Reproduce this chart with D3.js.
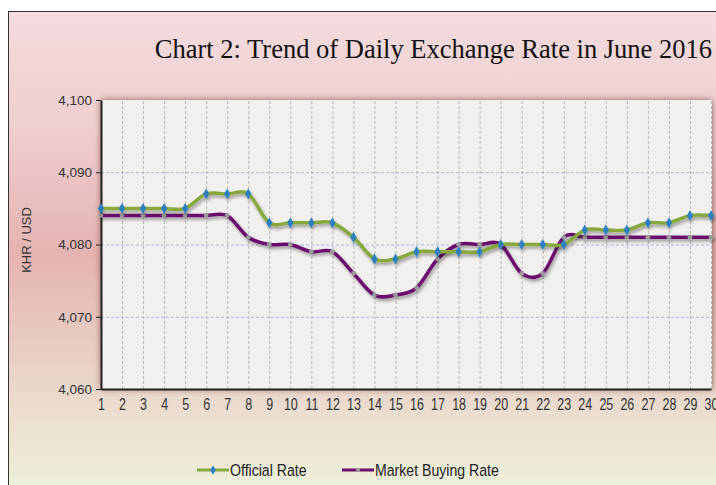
<!DOCTYPE html>
<html>
<head>
<meta charset="utf-8">
<script src="https://cdn.jsdelivr.net/npm/d3@7"></script>
<style>
  body { margin: 0; background: #fff; }
  svg { display: block; }
  .tick text { fill: #333; }
</style>
</head>
<body>
<div id="chart"></div>
<script>
// values
var days = d3.range(1, 31)
var officialRate = [4085, 4085, 4085, 4085, 4085, 4087, 4087, 4087, 4083, 4083,
                    4083, 4083, 4081, 4078, 4078, 4079, 4079, 4079, 4079, 4080,
                    4080, 4080, 4080, 4082, 4082, 4082, 4083, 4083, 4084, 4084]
var marketRate = [4084, 4084, 4084, 4084, 4084, 4084, 4084, 4081, 4080, 4080,
                  4079, 4079, 4076, 4073, 4073, 4074, 4078, 4080, 4080, 4080,
                  4076, 4076, 4081, 4081, 4081, 4081, 4081, 4081, 4081, 4081]
var yTicks = [4060, 4070, 4080, 4090, 4100]
var seriesNames = ["Official Rate", "Market Buying Rate"]

var W = 716, H = 485
var plot = {left: 101, right: 712, top: 100, bottom: 389}
var narrow = "'Liberation Sans Narrow', 'Arial Narrow', 'Liberation Sans', Arial, sans-serif"

var svg = d3.select("#chart").append("svg")
    .attr("width", W)
    .attr("height", H)

var defs = svg.append("defs")

var bg = defs.append("linearGradient").attr("id", "bg")
    .attr("x1", 0).attr("y1", 0).attr("x2", 0).attr("y2", 1)
bg.append("stop").attr("offset", "0%").attr("stop-color", "#f4dcde")
bg.append("stop").attr("offset", "25%").attr("stop-color", "#efcdcf")
bg.append("stop").attr("offset", "50%").attr("stop-color", "#e4b3b2")
bg.append("stop").attr("offset", "75%").attr("stop-color", "#ead4c9")
bg.append("stop").attr("offset", "100%").attr("stop-color", "#eef2dd")

var shadow = defs.append("filter").attr("id", "shadow")
    .attr("x", "-10%").attr("y", "-10%").attr("width", "130%").attr("height", "130%")
shadow.append("feDropShadow")
    .attr("dx", 1.5).attr("dy", 2.5).attr("stdDeviation", 1.5)
    .attr("flood-color", "#000").attr("flood-opacity", 0.35)

var boxShadow = defs.append("filter").attr("id", "boxshadow")
    .attr("x", "-5%").attr("y", "-5%").attr("width", "110%").attr("height", "110%")
boxShadow.append("feDropShadow")
    .attr("dx", 0).attr("dy", 0).attr("stdDeviation", 3)
    .attr("flood-color", "#5a2020").attr("flood-opacity", 0.7)

// panel
svg.append("rect")
    .attr("x", 8.5).attr("y", 11.5)
    .attr("width", W).attr("height", H)
    .attr("fill", "url(#bg)")
    .attr("stroke", "#333").attr("stroke-width", 1)

svg.append("text")
    .attr("x", 712).attr("y", 58)
    .attr("text-anchor", "end")
    .attr("font-family", "'Liberation Serif', 'Times New Roman', serif")
    .attr("font-size", 26.5)
    .attr("fill", "#111")
    .text("Chart 2: Trend of Daily Exchange Rate in June 2016")

var x = d3.scaleLinear()
    .domain([1, 30])
    .range([plot.left, plot.right - 1])

var y = d3.scaleLinear()
    .domain([4060, 4100])
    .range([plot.bottom, plot.top])

// plot area
svg.append("rect")
    .attr("x", plot.left).attr("y", plot.top)
    .attr("width", plot.right - plot.left).attr("height", plot.bottom - plot.top)
    .attr("fill", "#f2f0ef")
    .attr("filter", "url(#boxshadow)")

var g = svg.append("g")

g.append("g")
    .attr("class", "grid grid--x")
    .attr("transform", "translate(0," + plot.bottom + ")")
    .call(d3.axisBottom(x)
        .tickValues(days.slice(1))
        .tickSize(-(plot.bottom - plot.top))
        .tickFormat(""))
    .call(function(s) {
        s.select(".domain").remove()
        s.selectAll("line").attr("stroke", "#b8b8b8").attr("stroke-dasharray", "3,2")
    })

g.append("g")
    .attr("class", "grid grid--y")
    .attr("transform", "translate(" + plot.left + ",0)")
    .call(d3.axisLeft(y)
        .tickValues([4070, 4080, 4090])
        .tickSize(-(plot.right - plot.left))
        .tickFormat(""))
    .call(function(s) {
        s.select(".domain").remove()
        s.selectAll("line").attr("stroke", "#a9b3de").attr("stroke-dasharray", "3,2")
    })

// axes
g.append("g")
    .attr("class", "axis axis--y")
    .attr("transform", "translate(" + plot.left + ",0)")
    .call(d3.axisLeft(y)
        .tickValues(yTicks)
        .tickSize(5)
        .tickSizeOuter(0)
        .tickFormat(d3.format(",")))
    .call(function(s) {
        s.select(".domain").attr("stroke", "#222").attr("stroke-width", 2)
        s.selectAll("line").attr("stroke", "#222")
        s.selectAll("text")
            .attr("font-family", "'Liberation Sans', Arial, sans-serif")
            .attr("font-size", 13.5)
            .attr("x", -9)
    })

g.append("g")
    .attr("class", "axis axis--x")
    .attr("transform", "translate(0," + plot.bottom + ")")
    .call(d3.axisBottom(x)
        .tickValues(days)
        .tickSize(0)
        .tickSizeOuter(0)
        .tickFormat(d3.format("d")))
    .call(function(s) {
        s.select(".domain").attr("stroke", "#222").attr("stroke-width", 2)
        s.selectAll("text")
            .attr("font-family", narrow)
            .attr("font-size", 16)
            .attr("y", 0)
            .attr("dy", 0)
            .attr("transform", "translate(0,21) scale(0.78,1)")
    })

svg.append("text")
    .attr("transform", "translate(31,240) rotate(-90)")
    .attr("text-anchor", "middle")
    .attr("font-family", "'Liberation Sans', Arial, sans-serif")
    .attr("font-size", 13)
    .attr("fill", "#333")
    .text("KHR / USD")

// lines
var line = function(values) {
    return d3.line()
        .curve(d3.curveCardinal.tension(0))
        .x(function(d, i) { return x(days[i]) })
        .y(function(d) { return y(d) })(values)
}

var series = [
    {name: seriesNames[0], values: officialRate, color: "#86a83e", marker: "diamond", mcolor: "#2f7fbf", msize: 34},
    {name: seriesNames[1], values: marketRate, color: "#6a0f6c", marker: "circle", mcolor: "#9c9a9c", msize: 18}
]

var lines = svg.append("g")
series.slice().reverse().forEach(function(s) {
    var sg = lines.append("g").attr("filter", "url(#shadow)")
    sg.append("path")
        .attr("d", line(s.values))
        .attr("fill", "none")
        .attr("stroke", s.color)
        .attr("stroke-width", 3.5)
        .attr("stroke-linejoin", "round")
    var sym = d3.symbol()
        .type(s.marker == "diamond" ? d3.symbolDiamond : d3.symbolCircle)
        .size(s.msize)
    sg.selectAll(".marker")
        .data(s.values)
        .enter().append("path")
        .attr("class", "marker")
        .attr("transform", function(d, i) { return "translate(" + x(days[i]) + "," + y(d) + ")" })
        .attr("d", sym)
        .attr("fill", s.mcolor)
})

// legend
var legendX = [197, 342]
var legend = svg.append("g")
series.forEach(function(s, i) {
    var lg = legend.append("g").attr("transform", "translate(" + legendX[i] + ",470)")
    lg.append("line")
        .attr("x1", 0).attr("x2", 32)
        .attr("stroke", s.color).attr("stroke-width", 3)
    lg.append("path")
        .attr("transform", "translate(16,0)")
        .attr("d", d3.symbol()
            .type(s.marker == "diamond" ? d3.symbolDiamond : d3.symbolCircle)
            .size(s.msize * 0.8)())
        .attr("fill", s.mcolor)
    lg.append("text")
        .attr("transform", "translate(33,6) scale(0.83,1)")
        .attr("font-family", narrow)
        .attr("font-size", 17)
        .attr("fill", "#222")
        .text(s.name)
})
</script>
</body>
</html>
